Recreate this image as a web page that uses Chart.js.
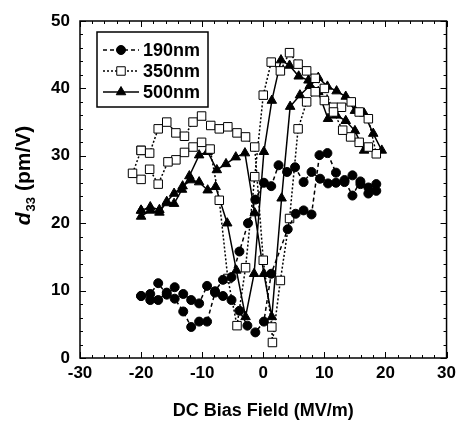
<!DOCTYPE html>
<html>
<head>
<meta charset="utf-8">
<script src="https://cdn.jsdelivr.net/npm/chart.js@4.4.0/dist/chart.umd.min.js"></script>
<style>
  html, body { margin: 0; padding: 0; background: #fff; }
</style>
</head>
<body>
<canvas id="chart" width="461" height="422"></canvas>
<script>
// axis ticks
const xTickVals = [-30, -20, -10, 0, 10, 20, 30];
const yTickVals = [0, 10, 20, 30, 40, 50];

const seriesNames = ["190nm", "350nm", "500nm"];

// 190nm : sweep up then back down
const x190 = [-20.0, -18.5, -17.2, -15.8, -14.5, -13.1, -11.8, -10.5, -9.2, -7.9, -6.6, -5.2, -3.9, -2.6, -1.3, 0.1, 1.3, 4.0, 5.3, 6.6, 7.9, 9.2, 10.5, 11.9, 13.3, 14.6, 15.9, 17.2, 18.5,
  18.5, 17.2, 15.9, 14.6, 13.3, 11.9, 10.6, 9.3, 7.9, 6.6, 5.2, 3.9, 2.5, 1.3, 0.1, -1.3, -2.5, -3.9, -5.2, -6.6, -7.9, -9.2, -10.5, -11.8, -13.1, -14.5, -15.8, -17.2, -18.5, -20.0];
const y190 = [9.2, 8.6, 8.6, 9.7, 8.8, 6.9, 4.6, 5.4, 5.4, 9.7, 9.2, 8.6, 7.0, 4.8, 3.8, 5.4, 12.5, 19.1, 21.4, 21.9, 21.3, 30.1, 30.4, 27.5, 26.1, 27.1, 25.8, 24.4, 25.8,
  24.8, 25.3, 26.2, 24.1, 26.4, 26.0, 25.9, 26.6, 27.6, 26.1, 28.3, 27.6, 28.6, 25.5, 26.0, 23.5, 20.0, 15.8, 12.0, 11.6, 9.9, 10.7, 8.1, 8.6, 9.5, 10.5, 9.4, 11.1, 9.5, 9.2];

// 350nm
const x350 = [-20.0, -18.6, -17.2, -15.8, -14.3, -12.9, -11.5, -10.1, -8.6, -7.2, -5.8, -4.3, -2.9, -1.4, 0.0, 1.4, 1.5, 2.8, 4.3, 5.7, 7.1, 8.5, 10.0, 11.5, 12.8, 14.4, 15.7, 17.2, 18.5,
  17.2, 15.7, 14.3, 13.0, 11.5, 10.0, 8.5, 7.1, 5.7, 4.3, 2.8, 1.3, 0.0, -1.4, -2.9, -4.3, -5.8, -7.2, -8.7, -10.1, -11.5, -12.9, -14.3, -15.6, -17.2, -18.6, -20.0, -21.4, -20.0];
const y350 = [30.8, 30.4, 34.0, 35.0, 33.4, 32.9, 35.0, 35.9, 34.5, 34.0, 34.3, 33.4, 32.8, 31.3, 14.5, 4.6, 2.3, 11.5, 20.7, 34.0, 38.0, 39.5, 38.2, 37.2, 37.2, 38.0, 36.5, 35.5, 30.3,
  31.3, 32.0, 32.8, 33.8, 36.5, 40.0, 41.5, 42.6, 43.6, 45.3, 42.6, 43.9, 39.0, 26.9, 13.4, 4.8, 11.8, 23.4, 31.0, 32.0, 31.3, 30.5, 29.4, 29.1, 25.8, 28.0, 26.5, 27.4, 30.8];

// 500nm
const x500 = [-20.0, -18.5, -17.0, -15.8, -14.6, -13.3, -12.1, -10.5, -9.1, -7.6, -6.1, -4.5, -3.0, -1.4, 0.1, 1.4, 3.0, 4.4, 6.0, 7.6, 9.0, 10.5, 12.0, 13.5, 15.0, 16.5, 18.0, 19.4,
  16.5, 15.0, 13.5, 12.0, 10.6, 9.0, 7.4, 5.8, 4.3, 2.9, 1.4, 0.1, -1.5, -2.9, -4.4, -5.9, -7.8, -9.1, -10.5, -11.8, -13.2, -14.6, -15.8, -17.0, -18.5, -20.0, -20.0];
const y500 = [21.9, 22.4, 22.0, 23.0, 22.9, 25.0, 27.0, 30.1, 30.6, 27.9, 28.8, 29.8, 30.4, 21.5, 12.5, 6.1, 23.7, 37.3, 39.0, 40.4, 41.6, 40.3, 39.6, 38.8, 36.7, 36.3, 33.3, 30.8,
  30.8, 33.7, 35.2, 36.0, 35.5, 39.5, 41.2, 41.8, 43.4, 44.2, 38.2, 30.6, 12.5, 6.1, 13.0, 20.0, 25.4, 24.9, 26.1, 26.4, 25.5, 24.4, 23.2, 21.6, 21.9, 21.0, 21.9];

const FONT = "'Liberation Sans', Arial, sans-serif";

function pts(xs, ys) {
  return xs.map((x, i) => ({ x: x, y: ys[i] }));
}

const styles = [
  { dash: [4, 3], pointStyle: "circle", radius: 4.5, fill: "#000" },
  { dash: [2, 2], pointStyle: "rect", radius: 6, fill: "#fff" },
  { dash: [], pointStyle: "triangle", radius: 5.5, fill: "#000" }
];
const allData = [pts(x190, y190), pts(x350, y350), pts(x500, y500)];

// frame, inward ticks, axis titles and the boxed legend
const decor = {
  id: "decor",
  afterDraw(chart) {
    const { ctx, chartArea: a, scales } = chart;
    const xs = scales.x, ys = scales.y;
    ctx.save();
    ctx.strokeStyle = "#000";
    ctx.lineWidth = 1.5;
    ctx.setLineDash([]);
    ctx.strokeRect(a.left, a.top, a.right - a.left, a.bottom - a.top);

    ctx.lineWidth = 1;
    ctx.beginPath();
    for (let v = -30; v <= 30; v += 2) {
      const px = Math.round(xs.getPixelForValue(v)) + 0.5;
      const len = v % 10 === 0 ? 6 : 3;
      ctx.moveTo(px, a.bottom); ctx.lineTo(px, a.bottom - len);
      ctx.moveTo(px, a.top); ctx.lineTo(px, a.top + len);
    }
    for (let v = 0; v <= 50; v += 2) {
      const py = Math.round(ys.getPixelForValue(v)) + 0.5;
      const len = v % 10 === 0 ? 6 : 3;
      ctx.moveTo(a.left, py); ctx.lineTo(a.left + len, py);
      ctx.moveTo(a.right, py); ctx.lineTo(a.right - len, py);
    }
    ctx.stroke();

    // x title
    ctx.fillStyle = "#000";
    ctx.font = "bold 18px " + FONT;
    ctx.textAlign = "center";
    ctx.textBaseline = "middle";
    ctx.fillText("DC Bias Field (MV/m)", (a.left + a.right) / 2, 411);

    // y title: italic d with subscript 33
    ctx.save();
    ctx.translate(30, 176);
    ctx.rotate(-Math.PI / 2);
    ctx.textAlign = "left";
    ctx.textBaseline = "alphabetic";
    const f1 = "italic bold 21px " + FONT, f2 = "bold 13px " + FONT, f3 = "bold 21px " + FONT;
    ctx.font = f1; const w1 = ctx.measureText("d").width;
    ctx.font = f2; const w2 = ctx.measureText("33").width;
    ctx.font = f3; const w3 = ctx.measureText(" (pm/V)").width;
    let cx = -(w1 + w2 + w3) / 2;
    ctx.font = f1; ctx.fillText("d", cx, 0); cx += w1 + 1;
    ctx.font = f2; ctx.fillText("33", cx, 5); cx += w2;
    ctx.font = f3; ctx.fillText(" (pm/V)", cx, 0);
    ctx.restore();

    // legend box
    ctx.lineWidth = 1.5;
    ctx.strokeRect(97, 32, 111, 75);
    const rows = [50, 71, 92];
    ctx.font = "bold 18px " + FONT;
    ctx.textAlign = "left";
    ctx.textBaseline = "middle";
    chart.data.datasets.forEach((ds, i) => {
      const st = styles[i];
      const ry = rows[i];
      ctx.strokeStyle = "#000";
      ctx.lineWidth = 1.5;
      ctx.setLineDash(st.dash);
      ctx.beginPath();
      ctx.moveTo(103, ry); ctx.lineTo(139, ry);
      ctx.stroke();
      ctx.setLineDash([]);
      ctx.fillStyle = st.fill;
      ctx.lineWidth = 1;
      Chart.helpers.drawPoint(ctx, { pointStyle: st.pointStyle, radius: st.radius, rotation: 0, borderWidth: 1 }, 121, ry);
      ctx.fillStyle = "#000";
      ctx.fillText(ds.label, 143, ry + 1);
    });
    ctx.restore();
  }
};

new Chart(document.getElementById("chart"), {
  type: "scatter",
  data: {
    datasets: seriesNames.map((name, i) => ({
      label: name,
      data: allData[i],
      showLine: true,
      borderColor: "#000",
      borderWidth: 1.5,
      borderDash: styles[i].dash,
      pointStyle: styles[i].pointStyle,
      pointRadius: styles[i].radius,
      pointBackgroundColor: styles[i].fill,
      pointBorderColor: "#000",
      pointBorderWidth: 1,
      tension: 0
    }))
  },
  options: {
    responsive: false,
    animation: false,
    layout: { padding: { top: 21, right: 12, left: 0, bottom: 0 } },
    plugins: { legend: { display: false }, tooltip: { enabled: false } },
    scales: {
      x: {
        type: "linear", min: -30, max: 30,
        afterBuildTicks: (s) => { s.ticks = xTickVals.map(v => ({ value: v })); },
        afterFit: (s) => { s.height = 64; },
        grid: { display: false, drawTicks: false },
        border: { display: false },
        ticks: { color: "#000", padding: 5, font: { family: FONT, size: 17, weight: "bold" } }
      },
      y: {
        type: "linear", min: 0, max: 50,
        afterBuildTicks: (s) => { s.ticks = yTickVals.map(v => ({ value: v })); },
        afterFit: (s) => { s.width = 80; },
        grid: { display: false, drawTicks: false },
        border: { display: false },
        ticks: { color: "#000", padding: 10, font: { family: FONT, size: 17, weight: "bold" } }
      }
    }
  },
  plugins: [decor]
});
</script>
</body>
</html>
